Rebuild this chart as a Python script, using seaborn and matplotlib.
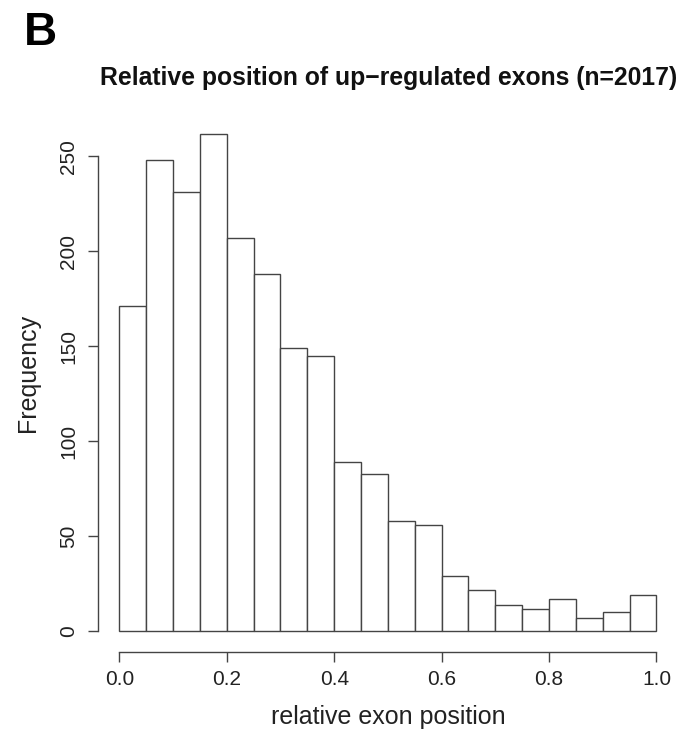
import numpy as np
import pandas as pd
import matplotlib
matplotlib.use("Agg")
import matplotlib.pyplot as plt
import seaborn as sns

# Data (bin width 0.05)
bin_edges = [round(i * 0.05, 2) for i in range(21)]
counts = [171, 248, 231, 262, 207, 188, 149, 145, 89, 83,
          58, 56, 29, 22, 14, 12, 17, 7, 10, 19]
x_ticks = [0.0, 0.2, 0.4, 0.6, 0.8, 1.0]
x_tick_labels = ["0.0", "0.2", "0.4", "0.6", "0.8", "1.0"]
y_ticks = [0, 50, 100, 150, 200, 250]
title = "Relative position of up\u2212regulated exons (n=2017)"

sns.set_theme(style="white")
plt.rcParams["font.family"] = ["Liberation Sans", "DejaVu Sans"]

centers = [(bin_edges[i] + bin_edges[i + 1]) / 2 for i in range(len(counts))]
df = pd.DataFrame({"pos": centers, "n": counts})

fig = plt.figure(figsize=(6.89, 7.38), dpi=100)
ax = fig.add_axes([0.142, 0.1165, 0.842, 0.7575])

sns.histplot(data=df, x="pos", weights="n", bins=bin_edges, ax=ax,
             color="white", edgecolor="#444444", linewidth=1.0, alpha=1.0)

ax.set_xlim(-0.04, 1.04)
ymax = max(counts) * 1.04
ax.set_ylim(-0.04 * ymax, ymax * 1.04)

for s in ["top", "right"]:
    ax.spines[s].set_visible(False)
for s in ["left", "bottom"]:
    ax.spines[s].set_color("#444444")
    ax.spines[s].set_linewidth(1.0)
ax.spines["bottom"].set_bounds(0, 1)
ax.spines["left"].set_bounds(0, 250)

ax.set_xticks(x_ticks)
ax.set_xticklabels(x_tick_labels)
ax.set_yticks(y_ticks)
ax.set_yticklabels([str(v) for v in y_ticks], rotation=90, va="center")
ax.tick_params(axis="both", which="both", direction="out", length=7, width=1.0,
               color="#444444", labelsize=15, labelcolor="#222222",
               bottom=True, left=True)
ax.tick_params(axis="x", pad=6)
ax.tick_params(axis="y", pad=7)

ax.set_xlabel("relative exon position", fontsize=18, color="#222222")
ax.set_ylabel("Frequency", fontsize=18, color="#222222")
ax.xaxis.set_label_coords(0.5, -0.0955)
ax.yaxis.set_label_coords(-0.1, 0.5)
ax.grid(False)

fig.text(0.564, 1 - 85 / 738, title, ha="center", va="baseline", fontsize=17.8,
         fontweight="bold", color="#111111")
fig.text(0.035, 1 - 45 / 738, "B", ha="left", va="baseline", fontsize=33,
         fontweight="bold", color="black")

fig.savefig("out.png", dpi=100, facecolor="white")
